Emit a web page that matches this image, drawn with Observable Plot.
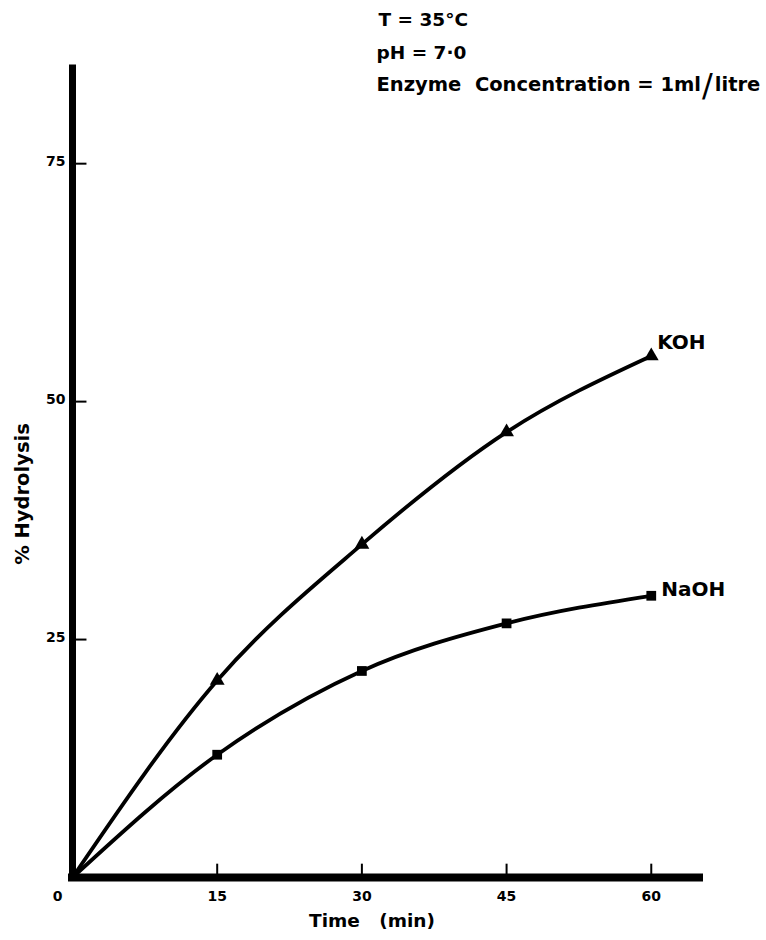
<!DOCTYPE html>
<html><head><meta charset="utf-8">
<script src="https://cdn.jsdelivr.net/npm/d3@7"></script>
<script src="https://cdn.jsdelivr.net/npm/@observablehq/plot@0.6"></script>
<style>
body{margin:0;background:#fff}
#chart svg{font-family:"DejaVu Sans",sans-serif}
</style>
</head><body><div id="chart"></div>
<script>
// time (min) and % hydrolysis
const time = [0, 15, 30, 45, 60];
const koh = [0, 20.7, 35.0, 46.8, 54.8];
const naoh = [0, 12.9, 21.7, 26.7, 29.6];
const xTicks = [15, 30, 45, 60];
const yTicks = [25, 50, 75];
const originLabel = ["0"];
const seriesNames = ["KOH", "NaOH"];
const notes = ["T = 35°C", "pH = 7·0", "Enzyme\u00a0\u00a0Concentration = 1ml/litre"];
const xTitle = "Time\u00a0\u00a0\u00a0(min)";
const yTitle = "% Hydrolysis";

const rows = [];
time.forEach((t, i) => {
  rows.push({series: seriesNames[0], t, v: koh[i]});
  rows.push({series: seriesNames[1], t, v: naoh[i]});
});
const pts = rows.filter(d => d.t > 0);
const lastKOH = rows.filter(d => d.series === "KOH").slice(-1);
const lastNaOH = rows.filter(d => d.series === "NaOH").slice(-1);

const bold = {fontWeight: "bold", fill: "black"};

const plot = Plot.plot({
  width: 766, height: 940,
  marginLeft: 72, marginRight: 67, marginTop: 68, marginBottom: 63,
  x: {domain: [0, 65], axis: null},
  y: {domain: [0, 85], axis: null},
  style: {fontFamily: "'DejaVu Sans', sans-serif", background: "white", color: "black"},
  marks: [
    Plot.line(rows, {x: "t", y: "v", z: "series", curve: "monotone-x", stroke: "black", strokeWidth: 3.8}),
    Plot.dot(pts.filter(d => d.series === "KOH"), {x: "t", y: "v", symbol: "triangle", r: 5.5, fill: "black"}),
    Plot.dot(pts.filter(d => d.series === "NaOH"), {x: "t", y: "v", symbol: "square", r: 5.5, fill: "black"}),
    Plot.text(lastKOH, {x: "t", y: "v", text: "series", textAnchor: "start", lineAnchor: "middle", dx: 6, dy: -13, fontSize: 20, ...bold}),
    Plot.text(lastNaOH, {x: "t", y: "v", text: "series", textAnchor: "start", lineAnchor: "middle", dx: 10, dy: -6, fontSize: 20, ...bold}),
    // axes
    Plot.ruleX([0], {x: d => d, y1: 0, y2: 85, stroke: "black", strokeWidth: 7, strokeLinecap: "square"}),
    Plot.ruleY([0], {y: d => d, x1: 0, x2: 65, stroke: "black", strokeWidth: 8, strokeLinecap: "square"}),
    Plot.ruleY(yTicks, {y: d => d, x1: 0, x2: 1.5, stroke: "black", strokeWidth: 2}),
    Plot.ruleX(xTicks, {x: d => d, y1: 0, y2: 1.4, stroke: "black", strokeWidth: 2}),
    Plot.text(xTicks, {x: d => d, y: () => 0, text: d => String(d), dy: 19, lineAnchor: "middle", fontSize: 14, ...bold}),
    Plot.text(yTicks, {x: () => 0, y: d => d, text: d => String(d), textAnchor: "end", dx: -7, dy: -2, lineAnchor: "middle", fontSize: 14, ...bold}),
    Plot.text(originLabel, {x: () => 0, y: () => 0, text: d => d, dx: -15, dy: 19, lineAnchor: "middle", fontSize: 14, ...bold}),
    Plot.text([xTitle], {text: d => d, frameAnchor: "bottom", textAnchor: "middle", dx: -14, dy: 44, lineAnchor: "middle", fontSize: 18.5, ...bold}),
    Plot.text([yTitle], {text: d => d, frameAnchor: "left", textAnchor: "middle", rotate: -90, dx: -50, dy: 21, lineAnchor: "middle", fontSize: 19.5, ...bold}),
    Plot.text([notes[0]], {text: d => d, frameAnchor: "top-left", dx: 306, dy: -48, textAnchor: "start", lineAnchor: "middle", fontSize: 18.5, ...bold}),
    Plot.text([notes[1]], {text: d => d, frameAnchor: "top-left", dx: 304, dy: -15, textAnchor: "start", lineAnchor: "middle", fontSize: 18.5, ...bold}),
    Plot.text([notes[2]], {text: d => d, frameAnchor: "top-left", dx: 304, dy: 16, textAnchor: "start", lineAnchor: "middle", fontSize: 19.5, ...bold})
  ]
});
document.getElementById("chart").appendChild(plot);

// enlarge the slash in "1ml/litre" as in the original
d3.select(plot).selectAll("text").each(function() {
  const t = this.textContent;
  if (t.includes("1ml/litre")) {
    const [a, b] = t.split("/");
    const sel = d3.select(this);
    sel.text(null);
    sel.append("tspan").text(a);
    sel.append("tspan").attr("font-size", 32).attr("font-weight", "normal").attr("dy", 5).attr("dx", 1).text("/");
    sel.append("tspan").attr("dy", -5).attr("dx", 2).text(b);
  }
});
</script>
</body></html>
